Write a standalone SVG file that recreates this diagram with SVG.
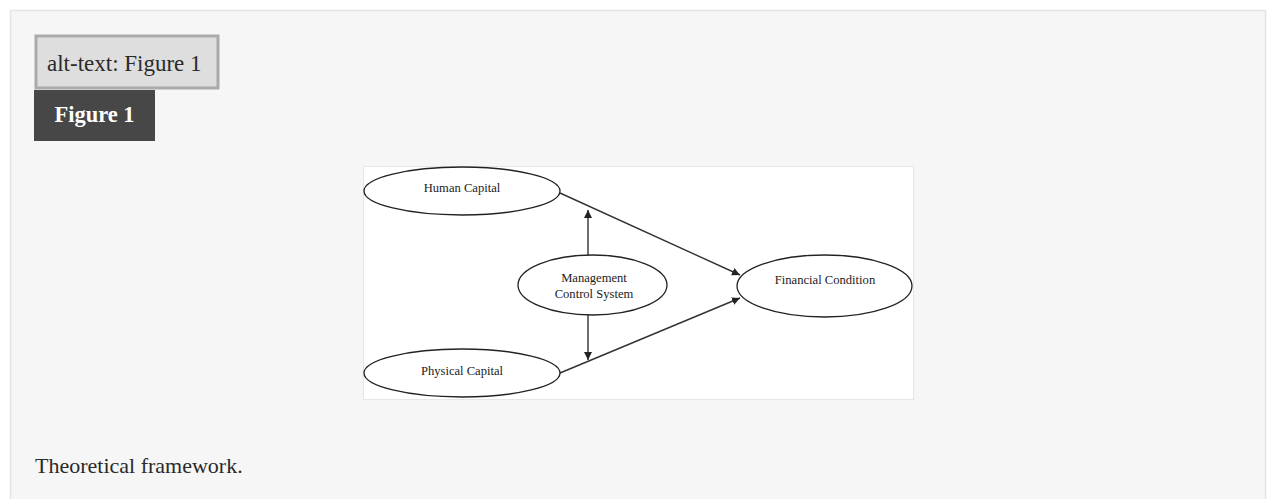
<svg xmlns="http://www.w3.org/2000/svg" width="1273" height="499" viewBox="0 0 1273 499">
  <defs>
    <marker id="arrow" viewBox="0 0 10 10" refX="10" refY="5" markerWidth="8" markerHeight="8" markerUnits="userSpaceOnUse" orient="auto">
      <path d="M0,0 L10,5 L0,10 z" fill="#222"/>
    </marker>
    <style>
      .node ellipse { fill: #fff; stroke: #222; stroke-width: 1.3; }
      .node text { font-family: "Liberation Serif", "Times New Roman", serif; font-size: 12.6px; fill: #222; text-anchor: middle; }
      .edge { stroke: #333; stroke-width: 1.4; fill: none; marker-end: url(#arrow); }
      .page { font-family: "Liberation Serif", "Times New Roman", serif; }
    </style>
  </defs>

  <!-- page background and panel -->
  <rect x="0" y="0" width="1273" height="499" fill="#ffffff"/>
  <rect x="10.5" y="10.5" width="1255" height="500" fill="#f6f6f6" stroke="#e4e4e4" stroke-width="1.5"/>

  <!-- alt-text badge -->
  <g id="alt-text">
    <rect x="36" y="36" width="182" height="52" fill="#dedede" stroke="#aaaaaa" stroke-width="3"/>
    <text class="page" x="47" y="71" font-size="23" fill="#2a2a2a">alt-text: Figure 1</text>
  </g>

  <!-- figure label -->
  <g id="figure-label">
    <rect x="34" y="90" width="121" height="51" fill="#474747"/>
    <text class="page" x="94.5" y="122" font-size="22.5" font-weight="bold" fill="#ffffff" text-anchor="middle">Figure 1</text>
  </g>

  <!-- figure canvas -->
  <rect x="363.5" y="166.5" width="550" height="233" fill="#ffffff" stroke="#e6e6e6" stroke-width="1"/>

  <!-- connectors -->
  <g id="connectors">
    <line class="edge" x1="560" y1="193" x2="740" y2="275"/>
    <line class="edge" x1="560" y1="373" x2="740" y2="298"/>
    <line class="edge" x1="588" y1="255" x2="588" y2="210"/>
    <line class="edge" x1="588" y1="315" x2="588" y2="360"/>
  </g>

  <!-- nodes -->
  <g id="human-capital" class="node">
    <ellipse cx="462" cy="191" rx="98" ry="24"/>
    <text x="462" y="192">Human Capital</text>
  </g>
  <g id="physical-capital" class="node">
    <ellipse cx="462" cy="373" rx="98" ry="24"/>
    <text x="462" y="375">Physical Capital</text>
  </g>
  <g id="management-control-system" class="node">
    <ellipse cx="592.5" cy="285" rx="74.5" ry="30"/>
    <text x="594" y="282">Management</text>
    <text x="594" y="298">Control System</text>
  </g>
  <g id="financial-condition" class="node">
    <ellipse cx="824.5" cy="286" rx="87.5" ry="31"/>
    <text x="825" y="284">Financial Condition</text>
  </g>

  <!-- caption -->
  <text class="page" x="35" y="473" font-size="22" fill="#2a2a2a">Theoretical framework.</text>
</svg>
